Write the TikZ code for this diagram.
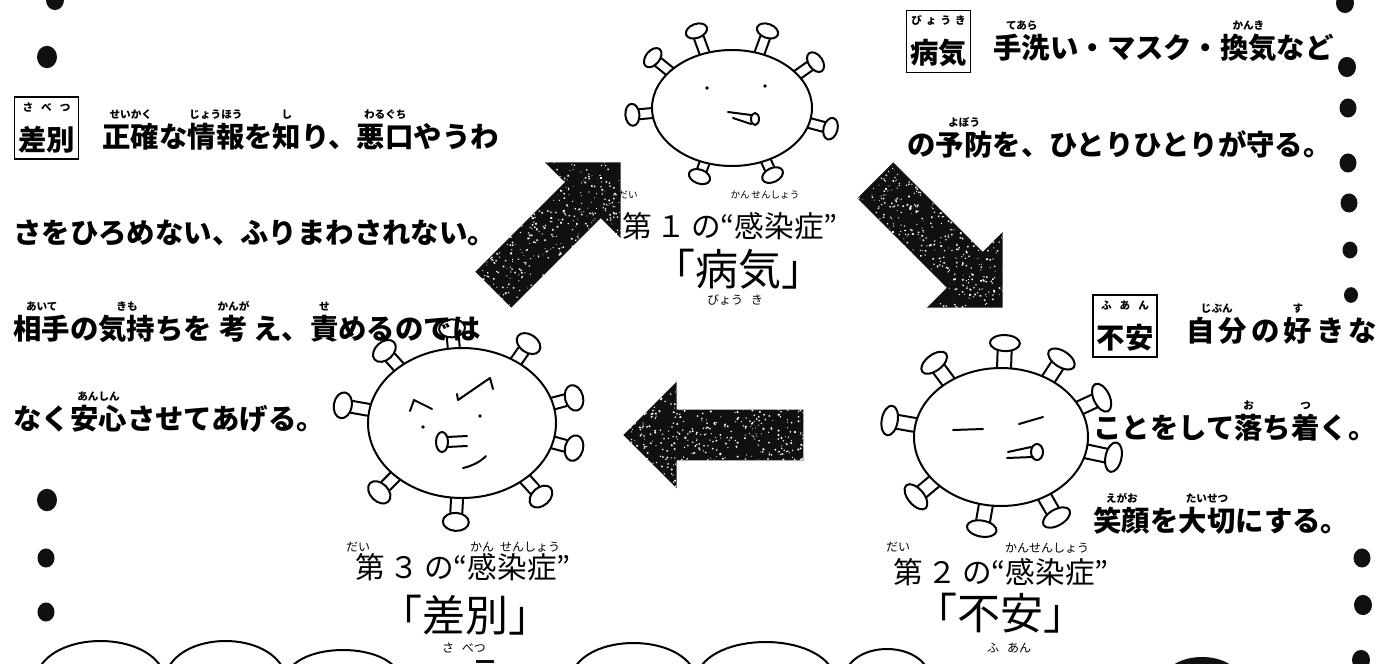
\documentclass[tikz,border=0pt]{standalone}
\usepackage{fontspec}
\usepackage{xcolor}
\usepackage{tikz}
\usetikzlibrary{arrows}
\usetikzlibrary{calc}
\usetikzlibrary{shapes.arrows}
\newfontfamily\jp{Noto Sans CJK JP}
\definecolor{inkcolor}{HTML}{101010}
\newcommand{\fur}{\fontsize{5.3pt}{6pt}\selectfont}
\newcommand{\rb}[2]{\ooalign{#1\cr\hidewidth\raisebox{1em}{\fur #2}\hidewidth\cr}}
\newcommand{\gp}{\hspace{2pt}}

\begin{document}
\begin{tikzpicture}[x=0.5pt,y=-0.5pt,
  body/.style={font={\jp\bfseries\fontsize{14.2pt}{17pt}\selectfont},anchor=base west,inner sep=0pt},
  tagbox/.style={draw,line width=0.7pt,minimum width=32pt,minimum height=31pt,inner sep=0pt,align=center,
    font={\jp\bfseries\fontsize{14.2pt}{16pt}\selectfont}},
  kansen/.style={font={\jp\fontsize{14.8pt}{16pt}\selectfont},anchor=base,inner sep=0pt},
  big/.style={font={\jp\fontsize{21.5pt}{24pt}\selectfont},anchor=base,inner sep=0pt},
  hand/.style={font={\jp\fontsize{6pt}{7pt}\selectfont},inner sep=0pt},
  virus/.style={line width=1pt,line cap=round,line join=round},
  speckle/.style={path picture={\foreach \k in {1,...,1100}
    \fill[white] ($(path picture bounding box.center)+(rand*46pt,rand*46pt)$) circle (0.25pt+0.35pt*rnd);}},
  bigarrow/.style={single arrow,single arrow tip angle=90,single arrow head extend=14pt,
    minimum height=90pt,inner xsep=0pt,inner ysep=12.5pt,fill=inkcolor,speckle}]
\pgfmathsetseed{4}
\useasboundingbox (0,0) rectangle (1398,664);
\fill[white] (0,0) rectangle (1398,664);

% binder dots down both sides
\foreach \px/\py/\r in {55/0/9,47/57/10,47/500/10,46/558/8.5,46/612/8.5,
    1345/3/9,1347/67/9,1348/108/8.5,1348/163/8.5,1349/203/8.5,1350/250/7.5,1351/295/7,
    1362/558/8.5,1363/605/9,1361/660/9}
  \fill[inkcolor] (\px,\py) ellipse [x radius=\r, y radius=1.12*\r];

% scalloped edge at the bottom
\foreach \xa/\xb/\yp in {36/165/641,165/286/641,286/400/650,571/696/643,696/835/642,844/930/649}
  \draw[virus] (\xa,676) .. controls ({\xa+0.1*(\xb-\xa)},{(8*\yp-1352)/6})
    and ({\xb-0.1*(\xb-\xa)},{(8*\yp-1352)/6}) .. (\xb,676);
\fill[inkcolor] (1202,680) ellipse [x radius=38, y radius=23];
\draw[inkcolor,line width=1.5pt] (476,661) -- (494,661);

% left column
\node[tagbox] (sabetsutag) at (46.5,128) {{\fur さ\hspace{4pt}べ\hspace{4pt}つ}\\[3.5pt]差別};
\node[body] (sabetsu1) at (102,147) {\rb{正確}{せいかく}な\rb{情報}{じょうほう}を\rb{知}{し}り、\rb{悪口}{わるぐち}やうわ};
\node[body] (sabetsu2) at (13,243) {さをひろめない、ふりまわされない。};
\node[body] (sabetsu3) at (13,339) {\rb{相手}{あいて}の\rb{気持}{きも}ちを\hspace{.25em}\rb{考}{かんが}\hspace{.2em}え、\rb{責}{せ}めるのでは};
\node[body] (sabetsu4) at (13,429) {なく\rb{安心}{あんしん}させてあげる。};

% right column
\node[tagbox] (byokitag) at (938.5,41.5) {{\fur び\hspace{2pt}ょ\hspace{2pt}う\hspace{2pt}き}\\[3.5pt]病気};
\node[body] (byoki1) at (993,58) {\rb{手洗}{てあら}い・マスク・\rb{換気}{かんき}など};
\node[body] (byoki2) at (907,155) {の\rb{予防}{よぼう}を、ひとりひとりが守る。};
\node[tagbox] (fuantag) at (1125,326) {{\fur ふ\hspace{4pt}あ\hspace{4pt}ん}\\[3.5pt]不安};
\node[body] (fuan1) at (1186,341) {\rb{自\gp 分}{じぶん}\gp の\gp \rb{好}{す}\gp き\gp な};
\node[body] (fuan2) at (1093,438) {ことをして\rb{落}{お}ち\rb{着}{つ}く。};
\node[body] (fuan3) at (1093,531) {\rb{笑顔}{えがお}を\rb{大切}{たいせつ}にする。};

% arrows round the cycle
\node[bigarrow,rotate=45] (arrowup) at (548,235) {};
\node[bigarrow,rotate=-45] (arrowdown) at (930,235) {};
\node[bigarrow,rotate=180] (arrowleft) at (726,435) {};

% virus 1
\coordinate (v1) at (732,108);
\foreach \a/\l in {250/24,290/24,219/22,325/22,175/20,15/22,110/15,65/16}{
  \begin{scope}[shift={($(v1)+(\a:80 and 58)$)},rotate=-\a]
    \draw[virus] (-3,-5) -- (\l-7,-5) (-3,5) -- (\l-7,5);
    \draw[virus] (\l,0) ellipse [x radius=7, y radius=11];
  \end{scope}}
\draw[virus,fill=white] (v1) ellipse [x radius=80, y radius=58];
\fill (707,88) circle (1.8) (765,86) circle (1.8);
\draw[virus] (728,112) -- (751,115) (733,118) -- (751,124);
\draw[virus] (755,119) ellipse [x radius=4, y radius=6];

% virus 2
\coordinate (v2) at (1001,437);
\foreach \a/\l in {272/25,233/24,303/24,190/26,335/24,12/28,140/24,100/24,60/24}{
  \begin{scope}[shift={($(v2)+(\a:87 and 69)$)},rotate=-\a]
    \draw[virus] (-3,-7) -- (\l-8,-7) (-3,7) -- (\l-8,7);
    \draw[virus] (\l,0) ellipse [x radius=8, y radius=15];
  \end{scope}}
\draw[virus,fill=white] (v2) ellipse [x radius=87, y radius=69];
\draw[virus] (953,430) -- (983,429) (1019,424) -- (1043,417);
\draw[virus] (1008,452) -- (1031,447) (1007,458) -- (1033,457);
\draw[virus] (1037,452) ellipse [x radius=6, y radius=8];

% virus 3
\coordinate (v3) at (462,423);
\foreach \a/\l in {228/22,265/20,305/22,190/27,345/22,15/22,135/23,93/24,48/24}{
  \begin{scope}[shift={($(v3)+(\a:94 and 75)$)},rotate=-\a]
    \draw[virus] (-3,-6) -- (\l-9,-6) (-3,6) -- (\l-9,6);
    \draw[virus] (\l,0) ellipse [x radius=9, y radius=13];
  \end{scope}}
\draw[virus,fill=white] (v3) ellipse [x radius=94, y radius=75];
\draw[virus] (410,411) -- (414,400) -- (432,409);
\draw[virus] (457,394) -- (458,400) -- (490,378) -- (493,389);
\fill (480,416) circle (1.8) (423,427) circle (1.8);
\draw[virus] (442,442) ellipse [x radius=6, y radius=10];
\draw[virus] (447,437) -- (467,436) (447,447) -- (467,446);
\draw[virus] (463,468) .. controls (472,466) and (480,462) .. (486,456);

% captions under each virus
\node[kansen] (kansen1) at (730,237) {第\,１\,の“感染症”};
\node[big] (byoki) at (738,285) {「病気」};
\node[hand,font={\jp\fontsize{4.8pt}{6pt}\selectfont}] (dai1) at (628,195) {だい};
\node[hand,font={\jp\fontsize{4.8pt}{6pt}\selectfont}] (kan1) at (765,195) {かん\,せんしょう};
\node[hand] (yomi1) at (735,300) {びょう\hspace{4pt}き};

\node[kansen] (kansen3) at (463,578) {第\,３\,の“感染症”};
\node[big] (sabetsu) at (465,631) {「差別」};
\node[hand] (dai3) at (358,547) {だい};
\node[hand] (kan3) at (515,547) {かん\hspace{3pt}せんしょう};
\node[hand] (yomi3) at (464,648) {さ\hspace{4pt}べつ};

\node[kansen] (kansen2) at (1001,583) {第\,２\,の“感染症”};
\node[big] (fuan) at (1000,629) {「不安」};
\node[hand] (dai2) at (898,547) {だい};
\node[hand] (kan2) at (1047,548) {かんせんしょう};
\node[hand] (yomi2) at (1009,648) {ふ\hspace{4pt}あん};
\end{tikzpicture}
\end{document}
